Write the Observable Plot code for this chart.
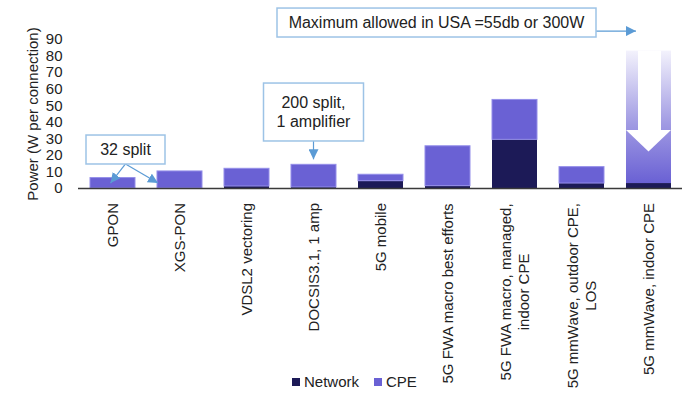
<!DOCTYPE html>
<html>
<head>
<meta charset="utf-8">
<script src="https://cdn.jsdelivr.net/npm/d3@7"></script>
<script src="https://cdn.jsdelivr.net/npm/@observablehq/plot@0.6"></script>
<style>
  html, body { margin: 0; padding: 0; background: #fff; }
  #wrap { position: relative; width: 700px; height: 406px; font-family: "Liberation Sans", Arial, sans-serif; color: #222; }
  #legend { position: absolute; left: 292px; top: 372px; display: flex; align-items: center; font-size: 15px; line-height: 20px; }
  #legend .sw { width: 8px; height: 8px; display: inline-block; margin-right: 4px; }
  #legend .item { display: flex; align-items: center; margin-right: 15px; }
</style>
</head>
<body>
<div id="wrap"><div id="chart"></div><div id="legend"></div></div>
<script>
// ---- data ----
const categories = ["GPON", "XGS-PON", "VDSL2 vectoring", "DOCSIS3.1, 1 amp", "5G mobile",
  "5G FWA macro best efforts", "5G FWA macro, managed, indoor CPE",
  "5G mmWave, outdoor CPE, LOS", "5G mmWave, indoor CPE"];
const tickLabels = ["GPON", "XGS-PON", "VDSL2 vectoring", "DOCSIS3.1, 1 amp", "5G mobile",
  "5G FWA macro best efforts", "5G FWA macro, managed,\nindoor CPE",
  "5G mmWave, outdoor CPE,\nLOS", "5G mmWave, indoor CPE"];
const network = [0, 0, 1.2, 0.6, 4.4, 1.4, 29.4, 3.0, 3.0];
const cpe = [6.3, 10.3, 10.7, 13.7, 3.9, 24.1, 24.1, 9.9, 80];
const seriesNames = ["Network", "CPE"];
const seriesColors = ["#1c1a57", "#6a61d4"];
const yTicks = [0, 10, 20, 30, 40, 50, 60, 70, 80, 90];
const yLabel = "Power (W per connection)";
const gradientCategory = "5G mmWave, indoor CPE";
const arrowLevels = {top: 83, neck: 35, tip: 22};
const annotationTexts = ["32 split", "200 split,\n1 amplifier", "Maximum allowed in USA =55db or 300W"];

// ---- derived tables ----
const netRows = categories.map((c, i) => ({category: c, series: "Network", y1: 0, y2: network[i]}));
const cpeRows = categories.map((c, i) => ({category: c, series: "CPE", y1: network[i], y2: network[i] + cpe[i]}));
const cpeSolid = cpeRows.filter(d => d.category !== gradientCategory);
const cpeGrad = cpeRows.filter(d => d.category === gradientCategory);

const FONT = '"Liberation Sans", Arial, sans-serif';
const TXT = "#222";

function defsMark() {
  const defs = d3.create("svg:defs");
  const g = defs.append("linearGradient").attr("id", "mmGrad")
    .attr("x1", 0).attr("y1", 0).attr("x2", 0).attr("y2", 1);
  g.append("stop").attr("offset", "0%").attr("stop-color", "#f3f2fc");
  g.append("stop").attr("offset", "55%").attr("stop-color", "#a19be3");
  g.append("stop").attr("offset", "100%").attr("stop-color", "#6a61d4");
  defs.append("marker").attr("id", "annHead").attr("markerUnits", "userSpaceOnUse")
    .attr("viewBox", "0 0 10 10").attr("refX", 10).attr("refY", 5)
    .attr("markerWidth", 10).attr("markerHeight", 10).attr("orient", "auto")
    .append("path").attr("d", "M0,0L10,5L0,10Z").attr("fill", "#5b9bd5");
  return defs.node();
}

function arrowHead(index, scales) {
  const x = scales.x, y = scales.y;
  const bw = x.bandwidth();
  const x0 = x(gradientCategory);
  return d3.create("svg:path")
    .attr("d", `M${x0},${y(arrowLevels.neck)}L${x0 + bw},${y(arrowLevels.neck)}L${x0 + bw / 2},${y(arrowLevels.tip)}Z`)
    .attr("fill", "white").node();
}

function xLabels(index, scales, values, dimensions) {
  const x = scales.x;
  const bw = x.bandwidth();
  const ctx = document.createElement("canvas").getContext("2d");
  ctx.font = `15px ${FONT}`;
  const g = d3.create("svg:g").attr("font-family", FONT).attr("font-size", 15).attr("fill", TXT);
  const y0 = dimensions.height - dimensions.marginBottom + 15;
  categories.forEach((c, i) => {
    const lines = tickLabels[i].split("\n");
    const maxW = d3.max(lines, l => ctx.measureText(l).width);
    const cx = x(c) + bw / 2, cy = y0 + maxW / 2;
    const t = g.append("text").attr("transform", `translate(${cx},${cy}) rotate(-90)`).attr("text-anchor", "middle");
    lines.forEach((l, k) => t.append("tspan").attr("x", 0)
      .attr("y", (k - (lines.length - 1) / 2) * 18).attr("dy", "0.35em").text(l));
  });
  return g.node();
}

function annotations(index, scales) {
  const x = scales.x, y = scales.y;
  const bw = x.bandwidth();
  const g = d3.create("svg:g").attr("font-family", FONT).attr("font-size", 16).attr("fill", TXT);
  const box = (l, t, r, b) => g.append("rect").attr("x", l).attr("y", t).attr("width", r - l).attr("height", b - t)
    .attr("fill", "white").attr("stroke", "#9dc3e6").attr("stroke-width", 1.5);
  const arrow = (x1, y1, x2, y2) => g.append("line").attr("x1", x1).attr("y1", y1).attr("x2", x2).attr("y2", y2)
    .attr("stroke", "#5b9bd5").attr("stroke-width", 1.2).attr("marker-end", "url(#annHead)");
  const label = (cx, cy, text) => {
    const lines = text.split("\n");
    const t = g.append("text").attr("text-anchor", "middle");
    lines.forEach((l, k) => t.append("tspan").attr("x", cx)
      .attr("y", cy + (k - (lines.length - 1) / 2) * 19).attr("dy", "0.35em").text(l));
  };
  // 32 split
  const gx = x(categories[0]), xx = x(categories[1]);
  const b1 = {l: gx - 4, r: xx + 8, t: y(32), b: y(14.5)};
  const c1 = (b1.l + b1.r) / 2;
  arrow(c1, b1.b, gx + bw / 2 - 2, y(3));
  arrow(c1, b1.b, xx + 1, y(3));
  box(b1.l, b1.t, b1.r, b1.b);
  label(c1, (b1.t + b1.b) / 2, annotationTexts[0]);
  // 200 split
  const dc = x(categories[3]) + bw / 2;
  const b2 = {l: dc - 50, r: dc + 50, t: y(63.4), b: y(28.4)};
  arrow(dc, b2.b, dc, y(17.3));
  box(b2.l, b2.t, b2.r, b2.b);
  label(dc, (b2.t + b2.b) / 2, annotationTexts[1]);
  // Maximum allowed
  const lx = x(gradientCategory);
  const b3 = {l: lx - 349, r: lx - 30, t: y(108.7), b: y(91.2)};
  arrow(b3.r, y(94.8), lx + 10, y(94.8));
  box(b3.l, b3.t, b3.r, b3.b);
  label((b3.l + b3.r) / 2, (b3.t + b3.b) / 2, annotationTexts[2]);
  return g.node();
}

const chart = Plot.plot({
  width: 700,
  height: 370,
  marginTop: 39,
  marginBottom: 182,
  marginLeft: 78,
  marginRight: 18,
  style: {fontFamily: FONT, fontSize: "15px", color: TXT, background: "white", overflow: "visible"},
  x: {domain: categories, paddingInner: 0.33, paddingOuter: 0.165, axis: null},
  y: {domain: [0, 90], axis: null},
  color: {domain: seriesNames, range: seriesColors},
  marks: [
    defsMark,
    Plot.axisY({ticks: yTicks, tickSize: 0, tickPadding: 16, fontSize: 15, label: null, fill: TXT}),
    Plot.text([yLabel], {frameAnchor: "left", textAnchor: "middle", dx: -45, rotate: -90, fontSize: 15, fill: TXT}),
    Plot.barY(netRows, {x: "category", y1: "y1", y2: "y2", fill: "series"}),
    Plot.barY(cpeSolid, {x: "category", y1: "y1", y2: "y2", fill: "series", stroke: "#948ee9", strokeWidth: 1}),
    Plot.barY(cpeGrad, {x: "category", y1: "y1", y2: "y2", fill: "url(#mmGrad)"}),
    Plot.barY([{category: gradientCategory, y1: arrowLevels.neck, y2: arrowLevels.top}],
      {x: "category", y1: "y1", y2: "y2", fill: "white", insetLeft: 12, insetRight: 10}),
    arrowHead,
    Plot.ruleY([0], {stroke: "#3a3a3a", strokeWidth: 1.5}),
    xLabels,
    annotations
  ]
});
document.getElementById("chart").appendChild(chart);

const legend = document.getElementById("legend");
seriesNames.forEach((s, i) => {
  const item = document.createElement("span");
  item.className = "item";
  item.innerHTML = `<span class="sw" style="background:${seriesColors[i]}"></span><span>${s}</span>`;
  legend.appendChild(item);
});
</script>
</body>
</html>
